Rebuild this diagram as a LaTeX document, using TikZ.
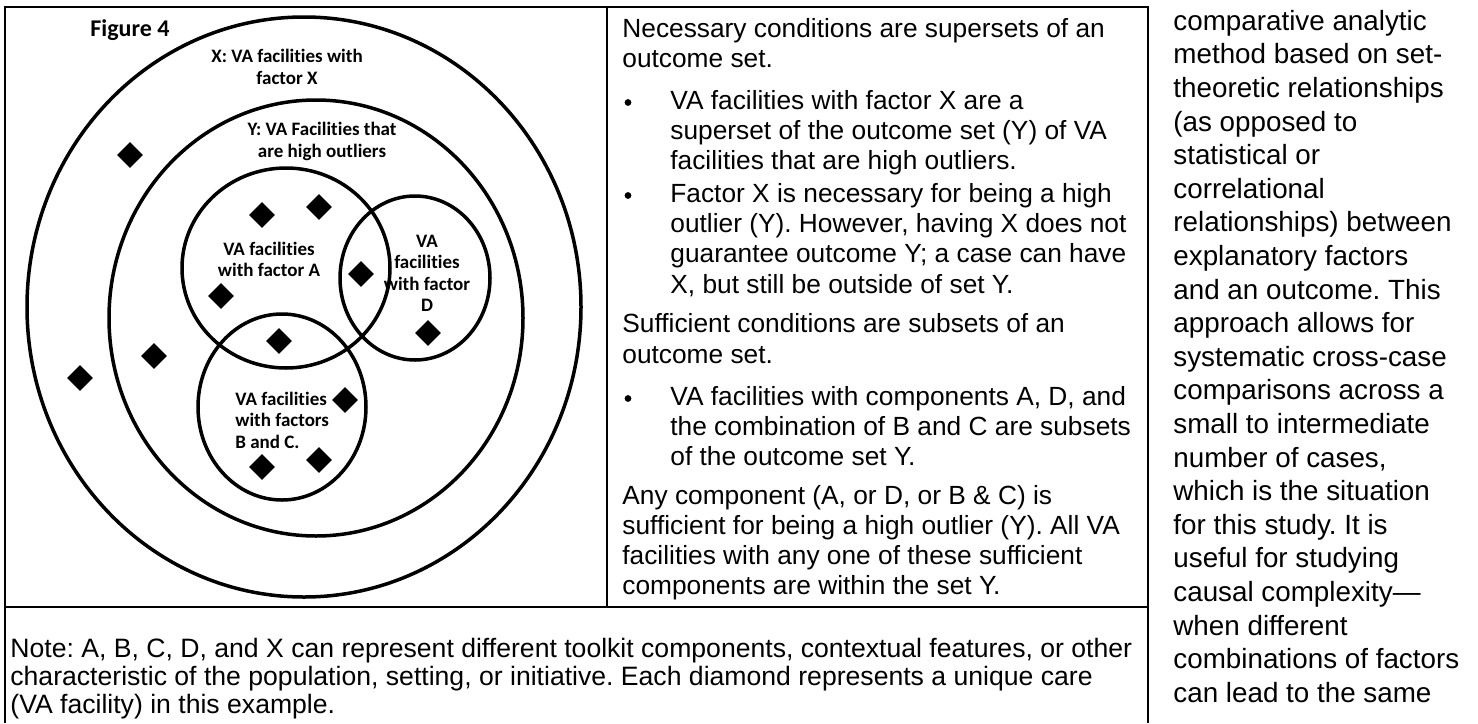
\documentclass[tikz,border=0pt]{standalone}
\usepackage{fontspec}
\setmainfont{Liberation Sans}
\newfontfamily\calibfont[Ligatures=NoCommon]{Carlito}
\usetikzlibrary{shapes.geometric}
\frenchspacing

\tikzset{
  rule/.style={line width=1pt},
  setline/.style={line width=1.75pt},
  casemark/.style={diamond, fill=black, inner sep=0pt, minimum size=13pt},
  setlabel/.style={font=\calibfont\bfseries\fontsize{9.5}{10.75}\selectfont, align=center, inner sep=0pt},
  midtxt/.style={font=\fontsize{13.15}{15}\selectfont, anchor=base west, inner sep=0pt},
  coltxt/.style={font=\fontsize{13.9}{16.8}\selectfont, anchor=base west, inner sep=0pt},
  notetxt/.style={font=\fontsize{13.3}{14}\selectfont, anchor=base west, inner sep=0pt},
  bulletdot/.style={circle, fill=black, inner sep=0pt, minimum size=3.4pt}
}

\begin{document}
\begin{tikzpicture}[x=0.5pt,y=-0.5pt]
\useasboundingbox (0,0) rectangle (1478,723);
\fill[white] (0,0) rectangle (1478,723);

% table frame
\coordinate (tl) at (5,7);
\coordinate (tr) at (1148,7);
\coordinate (bl) at (5,723);
\coordinate (br) at (1148,723);
\coordinate (ml) at (5,607);
\coordinate (mr) at (1148,607);
\coordinate (sept) at (607,7);
\coordinate (sepb) at (607,607);
\draw[rule] (bl) -- (tl) -- (tr) -- (br);
\draw[rule] (ml) -- (mr);
\draw[rule] (sept) -- (sepb);

% the sets
\draw[setline] (304,307) ellipse [x radius=138.5pt, y radius=145pt];
\draw[setline] (316,318) ellipse [x radius=103.5pt, y radius=109pt];
\draw[setline] (286,268) ellipse [x radius=52pt, y radius=50pt];
\draw[setline] (415,278) ellipse [x radius=37.5pt, y radius=41pt];
\draw[setline] (282,407) ellipse [x radius=42pt, y radius=46.5pt];

% cases
\foreach \px/\py [count=\i] in {130/155, 262/215, 319/207, 361/274, 221/296, 279/341,
  154/356, 80/378, 428/333, 345/400, 262/467, 319/460}
  \node[casemark] (case\i) at (\px,\py) {};

\node[setlabel, font=\calibfont\bfseries\fontsize{12}{14}\selectfont] (fig) at (130,30) {Figure 4};
\node[setlabel] (labX) at (287,67) {X: VA facilities with\\factor X};
\node[setlabel] (labY) at (322,141.5) {Y: VA Facilities that\\are high outliers};
\node[setlabel] (labA) at (269,259.5) {VA facilities\\with factor A};
\node[setlabel] (labD) at (427,273.5) {VA\\facilities\\with factor\\D};
\node[setlabel, align=left, anchor=west] (labBC) at (235,420) {VA facilities\\with factors\\B and C.};

% middle cell
\foreach \ty/\tx [count=\i] in {37/{Necessary conditions are supersets of an},
  67/{outcome set.},
  332/{Sufficient conditions are subsets of an},
  363/{outcome set.},
  504.5/{Any component (A, or D, or B \& C) is},
  534.5/{sufficient for being a high outlier (Y). All VA},
  564.5/{facilities with any one of these sufficient},
  594.5/{components are within the set Y.}}
  \node[midtxt] (par\i) at (622,\ty) {\tx};

\foreach \ty/\tx [count=\i] in {109/{VA facilities with factor X are a},
  139/{superset of the outcome set (Y) of VA},
  169/{facilities that are high outliers.},
  202/{Factor X is necessary for being a high},
  232/{outlier (Y). However, having X does not},
  262/{guarantee outcome Y; a case can have},
  293/{X, but still be outside of set Y.},
  405/{VA facilities with components A, D, and},
  435/{the combination of B and C are subsets},
  465/{of the outcome set Y.}}
  \node[midtxt] (item\i) at (670,\ty) {\tx};

\foreach \ty [count=\i] in {102.5,195.5,398.5}
  \node[bulletdot] (dot\i) at (628,\ty) {};

% note row
\foreach \ty/\tx [count=\i] in {657/{Note: A, B, C, D, and X can represent different toolkit components, contextual features, or other},
  685/{characteristic of the population, setting, or initiative. Each diamond represents a unique care},
  713/{(VA facility) in this example.}}
  \node[notetxt] (note\i) at (10,\ty) {\tx};

% running text beside the table
\foreach \tx [count=\i] in {{comparative analytic}, {method based on set-}, {theoretic relationships},
  {(as opposed to}, {statistical or}, {correlational}, {relationships) between},
  {explanatory factors}, {and an outcome. This}, {approach allows for},
  {systematic cross-case}, {comparisons across a}, {small to intermediate},
  {number of cases,}, {which is the situation}, {for this study. It is},
  {useful for studying}, {causal complexity---}, {when different},
  {combinations of factors}, {can lead to the same}}
  \node[coltxt] (col\i) at (1173,{30.2+33.6*(\i-1)}) {\tx};
\end{tikzpicture}
\end{document}
